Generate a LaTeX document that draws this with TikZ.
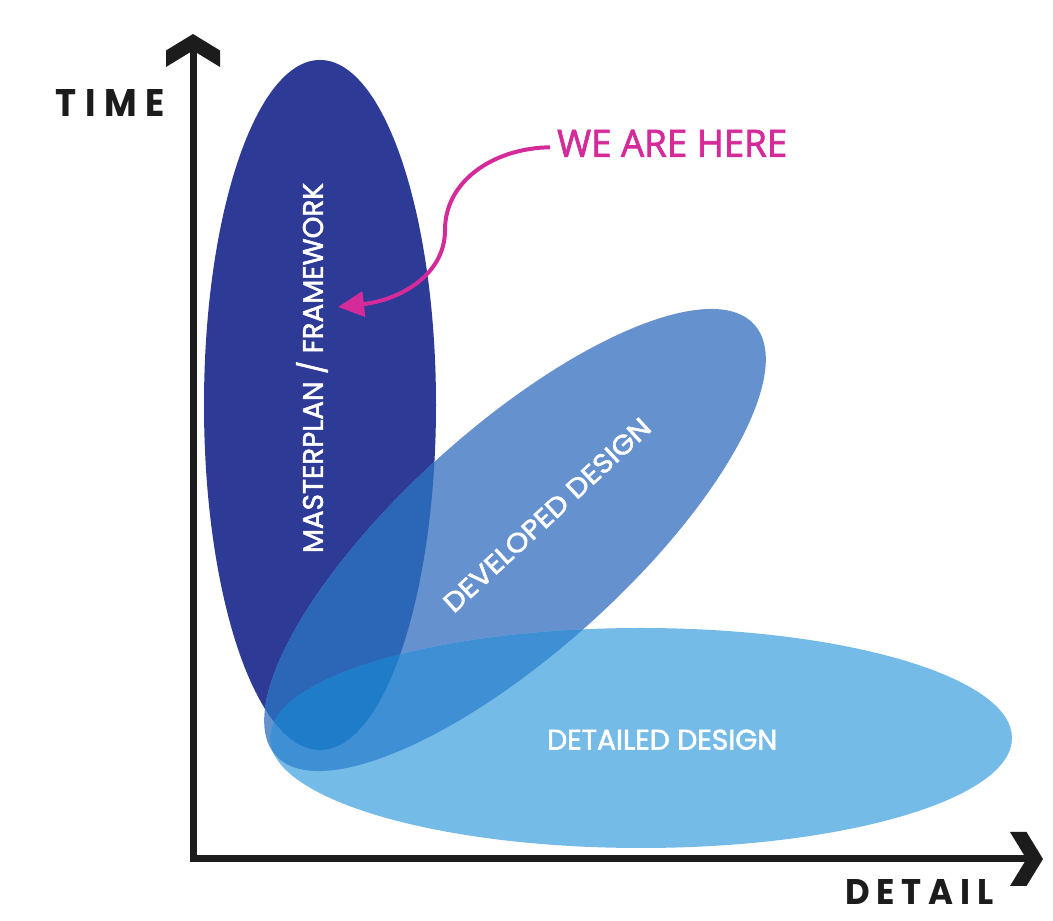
\documentclass[tikz,border=0pt]{standalone}
\usepackage{fontspec}
\usetikzlibrary{arrows.meta}
\newfontfamily\geofont{Poppins}
\newfontfamily\lblfont{Poppins}[FakeBold=2]
\newfontfamily\humfont{Open Sans}[FakeBold=2]
\definecolor{cD}{HTML}{2D3A96}
\definecolor{cM}{HTML}{6592CF}
\definecolor{cL}{HTML}{75BBE7}
\definecolor{cDM}{HTML}{2B67B6}
\definecolor{cML}{HTML}{3F8FD4}
\definecolor{cDML}{HTML}{1F7CC8}
\definecolor{cDL}{HTML}{2270C0}
\definecolor{axiscol}{HTML}{1C1C1C}
\definecolor{pinkcol}{HTML}{D42A9A}
\begin{document}
\begin{tikzpicture}[x=1pt,y=1pt,
  lbl/.style={text=white, inner sep=0pt, font=\lblfont},
  axislbl/.style={text=axiscol, inner sep=0pt, font=\geofont},
  axisline/.style={draw=axiscol, line width=7pt, line join=miter},
  chevron/.style={fill=axiscol},
  pointer/.style={draw=pinkcol, line width=4pt, -{Triangle[length=26pt,width=25pt]}}]
\useasboundingbox (0,0) rectangle (1053,921);
\fill[white] (0,0) rectangle (1053,921);
% base ellipses
\fill[cD] (320,516) ellipse [x radius=116, y radius=345];
\fill[cM, rotate around={42:(515,381)}] (515,381) ellipse [x radius=322, y radius=112];
\fill[cL] (641,183) ellipse [x radius=371, y radius=110];
% overlaps
\begin{scope}
  \clip (320,516) ellipse [x radius=116, y radius=345];
  \fill[cDL] (641,183) ellipse [x radius=371, y radius=110];
  \fill[cDM, rotate around={42:(515,381)}] (515,381) ellipse [x radius=322, y radius=112];
\end{scope}
\begin{scope}
  \clip[rotate around={42:(515,381)}] (515,381) ellipse [x radius=322, y radius=112];
  \fill[cML] (641,183) ellipse [x radius=371, y radius=110];
  \clip (320,516) ellipse [x radius=116, y radius=345];
  \fill[cDML] (641,183) ellipse [x radius=371, y radius=110];
\end{scope}
% labels
\node[lbl, rotate=90] (master) at (313,553) {\resizebox{370pt}{20pt}{MASTERPLAN \smash{/} FRAMEWORK}};
\node[lbl, rotate=42.8] (developed) at (547,406) {\resizebox{271pt}{19pt}{DEVELOPED DESIGN}};
\node[lbl, anchor=south west] (detailed) at (547,171) {\resizebox{230pt}{20pt}{DETAILED DESIGN}};
% axes
\coordinate (origin) at (193,62);
\coordinate (ytip) at (193,887);
\coordinate (xtip) at (1043,62);
\draw[axisline] ([yshift=-15pt]ytip) -- (origin) -- ([xshift=-15pt]xtip);
\fill[chevron] (ytip) -- ++(27,-16.5) -- ++(0,-16.5) -- ++(-27,16.5) -- ++(-27,-16.5) -- ++(0,16.5) -- cycle;
\fill[chevron] (xtip) -- ++(-16.5,27) -- ++(-16.5,0) -- ++(16.5,-27) -- ++(-16.5,-27) -- ++(16.5,0) -- cycle;
\node[axislbl, anchor=south west] (time) at (55,804) {\resizebox{110pt}{27pt}{\bfseries T\hspace{0.25em}I\hspace{0.25em}M\hspace{0.25em}E}};
\node[axislbl, anchor=south west] (detail) at (845,16) {\resizebox{148pt}{25pt}{\bfseries D\hspace{0.2em}E\hspace{0.2em}T\hspace{0.2em}A\hspace{0.2em}I\hspace{0.2em}L}};
% pointer
\node[text=pinkcol, inner sep=0pt, anchor=south west, font=\humfont] (here) at (557,764) {\resizebox{230pt}{27pt}{WE ARE HERE}};
\coordinate (target) at (338,614);
\draw[pointer] ([shift={(-7,-4)}]here.west) .. controls (495,773) and (445,741) .. (445,691) .. controls (445,646) and (400,621) .. (target);
\end{tikzpicture}
\end{document}
